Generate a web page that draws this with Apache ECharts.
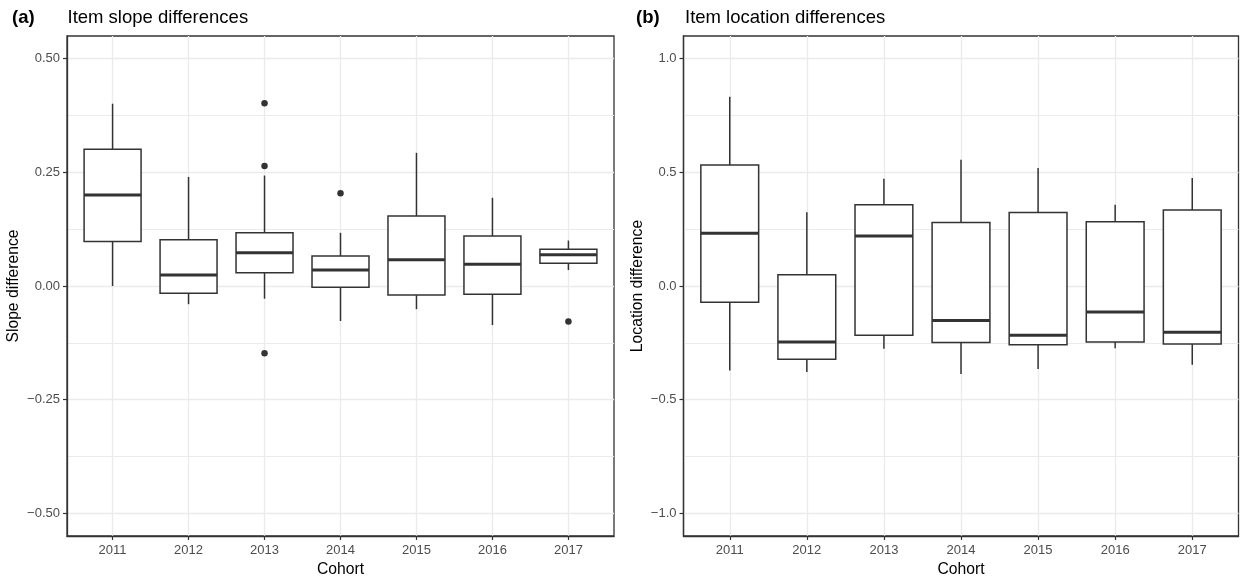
<!DOCTYPE html>
<html><head><meta charset="utf-8">
<script src="https://cdn.jsdelivr.net/npm/echarts@6/dist/echarts.min.js"></script>
<style>html,body{margin:0;padding:0;background:#fff}#c{width:1240px;height:579px}</style>
</head><body><div id="c"></div>
<script>
const cohorts = ['2011','2012','2013','2014','2015','2016','2017'];
// (a) Item slope differences: lower whisker, Q1, median, Q3, upper whisker
const slopeLow  = [0.000, -0.040, -0.028, -0.077, -0.051, -0.086, 0.035];
const slopeQ1   = [0.098, -0.016, 0.029, -0.003, -0.020, -0.018, 0.050];
const slopeMed  = [0.200, 0.024, 0.073, 0.035, 0.058, 0.048, 0.069];
const slopeQ3   = [0.301, 0.102, 0.117, 0.066, 0.154, 0.110, 0.081];
const slopeHigh = [0.401, 0.240, 0.243, 0.117, 0.293, 0.194, 0.100];
const slopeOutCohort = ['2013', '2013', '2013', '2014', '2017'];
const slopeOutValue  = [0.402, 0.264, -0.148, 0.204, -0.078];
// (b) Item location differences
const locLow  = [-0.372, -0.378, -0.276, -0.387, -0.365, -0.274, -0.346];
const locQ1   = [-0.072, -0.322, -0.217, -0.249, -0.258, -0.246, -0.255];
const locMed  = [0.232, -0.246, 0.220, -0.152, -0.217, -0.114, -0.204];
const locQ3   = [0.532, 0.050, 0.358, 0.279, 0.323, 0.283, 0.334];
const locHigh = [0.833, 0.325, 0.472, 0.556, 0.519, 0.358, 0.475];
// tick labels
const slopeTicks = [-0.5, -0.25, 0, 0.25, 0.5];
const slopeTickLabels = ['\u22120.50', '\u22120.25', '0.00', '0.25', '0.50'];
const slopeMinor = [-0.375, -0.125, 0.125, 0.375];
const locTicks = [-1, -0.5, 0, 0.5, 1];
const locTickLabels = ['\u22121.0', '\u22120.5', '0.0', '0.5', '1.0'];
const locMinor = [-0.75, -0.25, 0.25, 0.75];

const FONT = '"Liberation Sans", Arial, Helvetica, sans-serif';
const DARK = '#333333';
const GRIDC = '#ebebeb';
const catPos = cohorts.map((c, i) => i + 1);

function boxData(lo, q1, med, q3, hi) {
  return cohorts.map((c, i) => [catPos[i], lo[i], q1[i], med[i], q3[i], hi[i]]);
}
function outData(cs, vs) {
  return cs.map((c, i) => [cohorts.indexOf(c) + 1, vs[i]]);
}
function renderBox(params, api) {
  const x = api.value(0), lo = api.value(1), q1 = api.value(2), med = api.value(3), q3 = api.value(4), hi = api.value(5);
  const half = 0.375;
  const pLo = api.coord([x, lo]), pHi = api.coord([x, hi]);
  const pQ1 = api.coord([x, q1]), pQ3 = api.coord([x, q3]);
  const left = api.coord([x - half, med])[0], right = api.coord([x + half, med])[0];
  const yMed = api.coord([x, med])[1];
  const ln = { stroke: DARK, lineWidth: 1.5 };
  return {
    type: 'group',
    children: [
      { type: 'line', shape: { x1: pHi[0], y1: pHi[1], x2: pQ3[0], y2: pQ3[1] }, style: ln },
      { type: 'line', shape: { x1: pLo[0], y1: pLo[1], x2: pQ1[0], y2: pQ1[1] }, style: ln },
      { type: 'rect', shape: { x: left, y: pQ3[1], width: right - left, height: pQ1[1] - pQ3[1] },
        style: { fill: '#ffffff', stroke: DARK, lineWidth: 1.5 } },
      { type: 'line', shape: { x1: left, y1: yMed, x2: right, y2: yMed }, style: { stroke: DARK, lineWidth: 3 } }
    ]
  };
}
function lookup(ticks, labels) {
  return function (v) {
    for (let i = 0; i < ticks.length; i++) if (Math.abs(ticks[i] - v) < 1e-9) return labels[i];
    return '';
  };
}
function xAxis(gridIndex) {
  return {
    type: 'value', gridIndex, min: 0.4, max: 7.6, position: 'bottom',
    name: 'Cohort', nameLocation: 'middle', nameGap: 24,
    nameTextStyle: { fontFamily: FONT, fontSize: 15.7, color: '#000' },
    axisLine: { show: true, onZero: false, lineStyle: { color: DARK, width: 1.3 } },
    axisTick: { show: true, inside: false, length: 4, customValues: catPos, lineStyle: { color: DARK, width: 1.2 } },
    axisLabel: { show: true, margin: 8, customValues: catPos, fontFamily: FONT, fontSize: 13, color: '#4d4d4d',
      formatter: v => cohorts[Math.round(v) - 1] || '' },
    splitLine: { show: true, lineStyle: { color: GRIDC, width: 1.3 } }
  };
}
function yMajor(gridIndex, min, max, ticks, labels, name, gap) {
  return {
    type: 'value', gridIndex, min, max, position: 'left',
    name, nameLocation: 'middle', nameGap: gap,
    nameTextStyle: { fontFamily: FONT, fontSize: 15.7, color: '#000' },
    axisLine: { show: true, onZero: false, lineStyle: { color: DARK, width: 1.3 } },
    axisTick: { show: true, inside: false, length: 4, customValues: ticks, lineStyle: { color: DARK, width: 1.2 } },
    axisLabel: { show: true, margin: 7, customValues: ticks, fontFamily: FONT, fontSize: 13, color: '#4d4d4d',
      formatter: lookup(ticks, labels) },
    splitLine: { show: true, lineStyle: { color: GRIDC, width: 1.3 } }
  };
}
function yMinor(gridIndex, min, max, ticks) {
  return {
    type: 'value', gridIndex, min, max, position: 'left',
    axisLine: { show: false },
    axisTick: { show: false, customValues: ticks },
    axisLabel: { show: false, customValues: ticks },
    splitLine: { show: true, lineStyle: { color: GRIDC, width: 1.1 } }
  };
}

const chart = echarts.init(document.getElementById('c'), null, { renderer: 'canvas' });
chart.setOption({
  backgroundColor: '#ffffff',
  animation: false,
  title: [
    { text: '(a)', left: 12, top: 8, padding: 0, textStyle: { fontFamily: FONT, fontSize: 18.5, fontWeight: 'bold', color: '#000' } },
    { text: 'Item slope differences', left: 67.5, top: 8, padding: 0, textStyle: { fontFamily: FONT, fontSize: 18.5, fontWeight: 'normal', color: '#000' } },
    { text: '(b)', left: 636, top: 8, padding: 0, textStyle: { fontFamily: FONT, fontSize: 18.5, fontWeight: 'bold', color: '#000' } },
    { text: 'Item location differences', left: 685, top: 8, padding: 0, textStyle: { fontFamily: FONT, fontSize: 18.5, fontWeight: 'normal', color: '#000' } }
  ],
  grid: [
    { left: 67, top: 36, width: 547, height: 500, show: true, borderColor: DARK, borderWidth: 1.3, backgroundColor: 'transparent', containLabel: false, outerBoundsMode: 'none' },
    { left: 683.5, top: 36, width: 555, height: 500, show: true, borderColor: DARK, borderWidth: 1.3, backgroundColor: 'transparent', containLabel: false, outerBoundsMode: 'none' }
  ],
  xAxis: [xAxis(0), xAxis(1)],
  yAxis: [
    yMajor(0, -0.55, 0.55, slopeTicks, slopeTickLabels, 'Slope difference', 45),
    yMinor(0, -0.55, 0.55, slopeMinor),
    yMajor(1, -1.1, 1.1, locTicks, locTickLabels, 'Location difference', 38),
    yMinor(1, -1.1, 1.1, locMinor)
  ],
  series: [
    { type: 'custom', xAxisIndex: 0, yAxisIndex: 0, renderItem: renderBox,
      encode: { x: 0, y: [1, 2, 3, 4, 5] }, data: boxData(slopeLow, slopeQ1, slopeMed, slopeQ3, slopeHigh), z: 3 },
    { type: 'scatter', xAxisIndex: 0, yAxisIndex: 0, symbol: 'circle', symbolSize: 6.5,
      itemStyle: { color: DARK, opacity: 1 }, data: outData(slopeOutCohort, slopeOutValue), z: 4 },
    { type: 'custom', xAxisIndex: 1, yAxisIndex: 2, renderItem: renderBox,
      encode: { x: 0, y: [1, 2, 3, 4, 5] }, data: boxData(locLow, locQ1, locMed, locQ3, locHigh), z: 3 }
  ]
});
</script>
</body></html>
